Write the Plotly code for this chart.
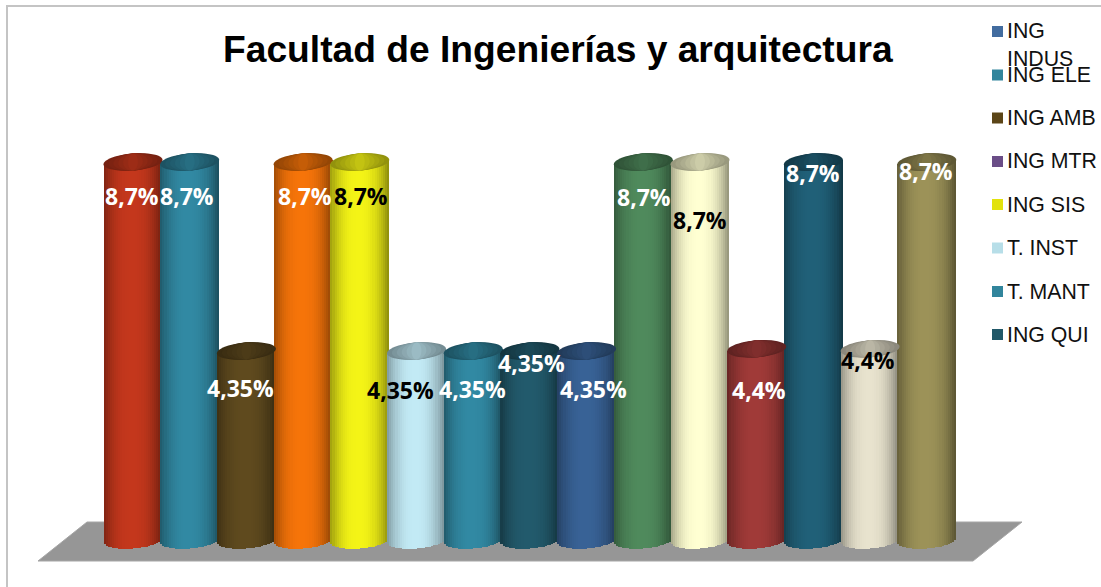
import math
import plotly.graph_objects as go

# ---------- data ----------
values = [8.7, 8.7, 4.35, 8.7, 8.7, 4.35, 4.35, 4.35, 4.35, 8.7, 8.7, 4.4, 8.7, 4.4, 8.7]
value_labels = ["8,7%", "8,7%", "4,35%", "8,7%", "8,7%", "4,35%", "4,35%", "4,35%", "4,35%",
                "8,7%", "8,7%", "4,4%", "8,7%", "4,4%", "8,7%"]
bar_colors = ["#C4371C", "#3189A3", "#5F4A1E", "#F67409", "#F4F416", "#C2EAF5", "#3189A3", "#225A6C",
              "#386296", "#4F8A5C", "#FFFFD2", "#A03A38", "#206078", "#E8E3CE", "#9C9258"]
label_colors = ["white", "white", "white", "white", "black", "black", "white", "white", "white",
                "white", "black", "white", "white", "black", "white"]
legend_names = ["ING<br>INDUS", "ING ELE", "ING AMB", "ING MTR", "ING SIS", "T. INST", "T. MANT", "ING QUI"]
legend_colors = ["#426C9F", "#31859C", "#5B4517", "#6A4D87", "#E2E20C", "#B7DEE8", "#31859C", "#215868"]
title_text = "Facultad de Ingenierías y arquitectura"

# ---------- layout constants (pixels) ----------
W, H = 1101, 587
FIRST_CENTER, BAR_STEP = 133.0, 56.7
BAR_W = 1.04
ZERO_PX, PX_PER_UNIT = 540.0, 378.0 / 8.7
STRIPS = 28
CAP_RY, TILT = 8.5, 2.2
label_x_px = [132, 187, 240, 305, 361, 400, 472, 531, 593, 644, 700, 759, 813, 868, 926]
label_y_px = [196, 196, 388, 196, 196, 390, 389, 363, 389, 197, 220, 390, 173, 360, 171]
legend_y_px = [31.5, 75, 118, 161.5, 204.5, 248, 291.5, 334.5]


def px(x):
    return x / W


def py(y):
    return 1 - y / H


def shade(hex_color, f):
    r, g, b = (int(hex_color[i:i + 2], 16) for i in (1, 3, 5))
    return f"rgb({min(255, r*f):.0f},{min(255, g*f):.0f},{min(255, b*f):.0f})"


def light(u):
    # cylinder shading across the width, u in [-1, 1]
    return 0.6 + 0.4 * (1 - min(1.0, abs(u + 0.05)) ** 2.4)


x_min = (0 - FIRST_CENTER) / BAR_STEP
x_max = (W - FIRST_CENTER) / BAR_STEP
y_min = (ZERO_PX - H) / PX_PER_UNIT
y_max = ZERO_PX / PX_PER_UNIT
ry = CAP_RY / PX_PER_UNIT
tilt = TILT / PX_PER_UNIT

fig = go.Figure()
shapes = [
    dict(type="path", xref="paper", yref="paper", layer="below",
         path=f"M {px(87)} {py(522)} L {px(1022)} {py(522)} L {px(973)} {py(561)} L {px(38)} {py(561)} Z",
         fillcolor="#969696", line=dict(color="#A6A6A6", width=1)),
    dict(type="path", xref="paper", yref="paper", layer="below",
         path=f"M {px(7)} {py(590)} L {px(7)} {py(6)} L {px(1105)} {py(6)}",
         line=dict(color="#C4C4C4", width=2)),
]

for i, (v, c) in enumerate(zip(values, bar_colors)):
    xs, ys, bases, cols = [], [], [], []
    for s in range(STRIPS):
        u = -1 + (2 * s + 1) / STRIPS
        bottom = -ry * math.sqrt(1 - u * u) + tilt * u
        xs.append(i + u * BAR_W / 2)
        bases.append(bottom)
        ys.append(v + tilt * u - bottom)
        cols.append(shade(c, light(u)))
    fig.add_trace(go.Bar(x=xs, y=ys, base=bases, width=BAR_W / STRIPS,
                         marker=dict(color=cols, line=dict(width=0)),
                         hoverinfo="skip", showlegend=False))
    # top cap: nested ellipses, darker at the rim, lighter towards the middle
    for level in range(6):
        scale = 1 - level / 6
        pts = []
        for k in range(49):
            t = 2 * math.pi * k / 48
            pts.append((i + 0.5 * BAR_W * scale * math.cos(t),
                        v + ry * math.sin(t) + tilt * scale * math.cos(t)))
        path = "M " + " L ".join(f"{a:.4f} {b:.4f}" for a, b in pts) + " Z"
        shapes.append(dict(type="path", xref="x", yref="y", layer="above", path=path,
                           fillcolor=shade(c, 0.6 + 0.04 * level), line=dict(width=0)))

annotations = [dict(text=title_text, xref="paper", yref="paper", x=px(558), y=py(49),
                    xanchor="center", yanchor="middle", showarrow=False,
                    font=dict(family="Liberation Sans", size=37.2, color="black", weight="bold"))]

for lx, ly, t, col in zip(label_x_px, label_y_px, value_labels, label_colors):
    annotations.append(dict(text=t, xref="paper", yref="paper", x=px(lx), y=py(ly),
                            xanchor="center", yanchor="middle", showarrow=False,
                            font=dict(family="Open Sans", size=23, color=col, weight="bold")))

for ly, name, col in zip(legend_y_px, legend_names, legend_colors):
    shapes.append(dict(type="rect", xref="paper", yref="paper",
                       x0=px(992), x1=px(1003), y0=py(ly - 5.5), y1=py(ly + 5.5),
                       fillcolor=col, line=dict(width=0)))
    annotations.append(dict(text=name, xref="paper", yref="paper", x=px(1006), y=py(ly - 13),
                            xanchor="left", yanchor="top", align="left", showarrow=False,
                            borderpad=0, font=dict(family="Liberation Sans", size=21.3, color="#111111")))

fig.update_layout(
    width=W, height=H, autosize=False, margin=dict(l=0, r=0, t=0, b=0),
    paper_bgcolor="white", plot_bgcolor="rgba(0,0,0,0)", barmode="overlay", bargap=0,
    showlegend=False, shapes=shapes, annotations=annotations,
    xaxis=dict(range=[x_min, x_max], visible=False, fixedrange=True),
    yaxis=dict(range=[y_min, y_max], visible=False, fixedrange=True),
)
fig.write_html("out.html", post_script="document.body.style.margin='0';",
               config=dict(displayModeBar=False))
